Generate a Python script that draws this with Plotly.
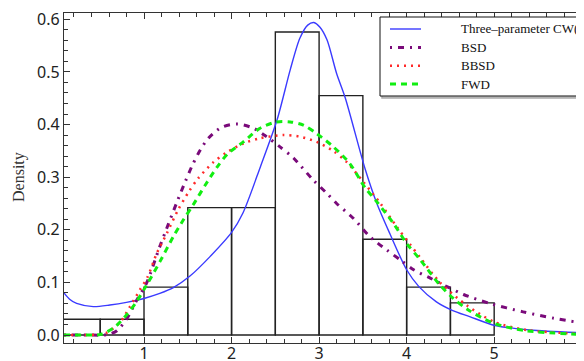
import plotly.graph_objects as go

# Histogram (density) bins of width 0.5
bin_centers = [0.25, 0.75, 1.25, 1.75, 2.25, 2.75, 3.25, 3.75, 4.25, 4.75]
bin_heights = [0.030, 0.030, 0.091, 0.242, 0.242, 0.576, 0.455, 0.182, 0.091, 0.061]
bin_width = 0.5

# Three-parameter CW(L)
cw_x = [0.086, 0.15, 0.23, 0.42, 0.61, 0.8, 0.99, 1.18, 1.335, 1.525, 1.754, 2.0, 2.13,
        2.33, 2.52, 2.67, 2.78, 2.87, 2.94, 3.01, 3.09, 3.2, 3.3, 3.525, 3.66, 3.81, 4.0,
        4.14, 4.34, 4.52, 4.72, 5.01, 5.41, 6.03]
cw_y = [0.080, 0.068, 0.060, 0.054, 0.057, 0.062, 0.069, 0.079, 0.090, 0.112, 0.149, 0.195,
        0.232, 0.320, 0.409, 0.504, 0.564, 0.589, 0.594, 0.585, 0.561, 0.497, 0.450, 0.316,
        0.250, 0.192, 0.124, 0.092, 0.063, 0.047, 0.035, 0.018, 0.0095, 0.004]

# BSD
bsd_x = [0.086, 0.3, 0.55, 0.61, 0.69, 0.8, 0.917, 1.03, 1.18, 1.26, 1.37, 1.47, 1.545,
         1.62, 1.735, 1.89, 2.07, 2.25, 2.4, 2.55, 2.71, 2.93, 3.09, 3.2, 3.39, 3.58, 3.77,
         3.925, 4.08, 4.27, 4.46, 4.65, 4.95, 5.33, 5.68, 6.03]
bsd_y = [0.0, 0.0, 0.0, 0.002, 0.008, 0.030, 0.066, 0.099, 0.168, 0.203, 0.250, 0.291, 0.320,
         0.345, 0.374, 0.395, 0.401, 0.393, 0.377, 0.358, 0.336, 0.295, 0.269, 0.250, 0.222,
         0.187, 0.162, 0.143, 0.124, 0.108, 0.092, 0.077, 0.060, 0.044, 0.032, 0.022]

# BBSD
bbsd_x = [0.086, 0.3, 0.5, 0.57, 0.73, 0.84, 0.954, 1.04, 1.145, 1.26, 1.39, 1.51, 1.62,
          1.79, 1.945, 2.135, 2.325, 2.59, 2.78, 2.97, 3.16, 3.32, 3.51, 3.7, 3.89, 4.04,
          4.155, 4.38, 4.69, 5.0, 5.37, 6.03]
bbsd_y = [0.0, 0.0, 0.001, 0.004, 0.025, 0.054, 0.086, 0.110, 0.155, 0.193, 0.238, 0.272,
          0.298, 0.328, 0.347, 0.364, 0.374, 0.380, 0.377, 0.367, 0.350, 0.328, 0.290, 0.250,
          0.205, 0.172, 0.147, 0.100, 0.056, 0.025, 0.0095, 0.002]

# FWD
fwd_x = [0.086, 0.3, 0.5, 0.65, 0.8, 0.917, 1.03, 1.18, 1.335, 1.45, 1.56, 1.7, 1.83, 1.96,
         2.135, 2.325, 2.516, 2.67, 2.82, 2.97, 3.16, 3.35, 3.525, 3.66, 3.85, 4.0, 4.155,
         4.38, 4.53, 4.7, 5.0, 5.37, 6.03]
fwd_y = [0.0, 0.0, 0.001, 0.013, 0.038, 0.064, 0.095, 0.139, 0.187, 0.219, 0.247, 0.285,
         0.318, 0.345, 0.367, 0.393, 0.405, 0.405, 0.399, 0.383, 0.358, 0.326, 0.280, 0.253,
         0.212, 0.174, 0.143, 0.095, 0.070, 0.048, 0.022, 0.008, 0.001]

x_tick_step = 1
y_ticks = [0.0, 0.1, 0.2, 0.3, 0.4, 0.5, 0.6]

series_names = ["Three\u2013parameter CW(L)", "BSD", "BBSD", "FWD"]
series_colors = ["#3a3aff", "#7a0a7a", "#ff2a2a", "#11ee11"]
series_widths = [1.4, 3, 2.5, 3]
series_dashes = ["solid", "2px,6px,6px,6px", "2px,5px", "6px,5px"]
series_x = [cw_x, bsd_x, bbsd_x, fwd_x]
series_y = [cw_y, bsd_y, bbsd_y, fwd_y]

fig = go.Figure()
fig.add_trace(go.Bar(x=bin_centers, y=bin_heights, width=bin_width,
                     marker=dict(color="rgba(0,0,0,0)", line=dict(color="#222222", width=1.4)),
                     showlegend=False, hoverinfo="skip"))
for name, col, w, d, xs, ys in zip(series_names, series_colors, series_widths,
                                   series_dashes, series_x, series_y):
    fig.add_trace(go.Scatter(x=xs, y=ys, mode="lines", name=name, showlegend=False,
                             line=dict(color=col, width=w, dash=d, shape="spline",
                                       smoothing=0.8)))

axis_common = dict(showgrid=False, zeroline=False, showline=True, linecolor="#333333",
                   linewidth=1.2, ticks="inside", tickcolor="#333333", automargin=False,
                   ticklabeloverflow="allow",
                   tickfont=dict(family="Noto Sans", size=16, color="#222222"))

fig.update_xaxes(range=[0.086, 6.026], tickmode="linear", tick0=0, dtick=x_tick_step,
                 ticklen=6, mirror="ticks", ticklabelstandoff=-4,
                 minor=dict(dtick=0.2, ticks="inside", ticklen=3.5, tickcolor="#333333"),
                 **axis_common)
fig.update_yaxes(range=[-0.0152, 0.612], tickvals=y_ticks, tickformat=".1f", ticklen=6,
                 minor=dict(dtick=0.02, ticks="inside", ticklen=3.5, tickcolor="#333333"),
                 **axis_common)

# The page body has an 8px margin, so figure coordinates are shifted by 8px.
OFF = 8
L, R, T, B = 64 - OFF, 584 - OFF, 13 - OFF, 343 - OFF
def px(x):
    return (x - OFF - L) / (R - L)
def py(y):
    return (B - (y - OFF)) / (B - T)

# legend box with a faint shadow
fig.add_shape(type="rect", xref="paper", yref="paper", x0=px(382), x1=px(620),
              y0=py(98), y1=py(19), line=dict(color="#aaaaaa", width=1.5), fillcolor="#cccccc",
              layer="above")
fig.add_shape(type="rect", xref="paper", yref="paper", x0=px(380), x1=px(620),
              y0=py(96), y1=py(17), line=dict(color="#111111", width=1), fillcolor="white",
              layer="above")
row_y = [29, 47.5, 65.7, 84]
for name, col, w, d, ry in zip(series_names, series_colors, series_widths,
                               series_dashes, row_y):
    fig.add_shape(type="line", xref="paper", yref="paper", x0=px(390), x1=px(421),
                  y0=py(ry), y1=py(ry), line=dict(color=col, width=w, dash=d), layer="above")
    fig.add_annotation(text=name, xref="paper", yref="paper", x=px(459), y=py(ry),
                       xanchor="left", yanchor="middle", showarrow=False,
                       font=dict(family="Liberation Serif", size=13, color="#111111"))

fig.add_annotation(text="Density", xref="paper", yref="paper", x=px(19), y=py(177),
                   xanchor="center", yanchor="middle", textangle=-90, showarrow=False,
                   font=dict(family="Liberation Serif", size=16, color="#333333"))

fig.update_layout(
    width=584, height=361,
    margin=dict(l=L, r=584 - R, t=T, b=361 - B),
    plot_bgcolor="white", paper_bgcolor="white",
    barmode="overlay", showlegend=False,
)

fig.write_html("out.html")
